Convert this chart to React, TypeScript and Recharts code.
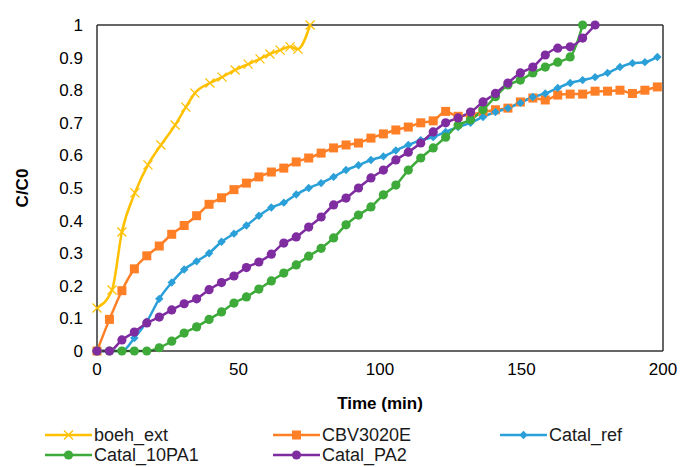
import React from 'react';
import { LineChart, Line, XAxis, YAxis, ReferenceLine } from 'recharts';

// sampling times (min) shared by the catalyst runs
const times = [
  0, 4.4, 8.8, 13.2, 17.6, 22, 26.4, 30.8, 35.2, 39.6, 44, 48.4, 52.8, 57.2, 61.6, 66, 70.4, 74.8, 79.2, 83.6,
  88, 92.4, 96.8, 101.2, 105.6, 110, 114.4, 118.8, 123.2, 127.6, 132, 136.4, 140.8, 145.2, 149.6, 154, 158.4,
  162.8, 167.2, 171.6, 176, 180.4, 184.8, 189.2, 193.6, 198,
];

const boehTimes = [0, 5.3, 8.8, 13.4, 18, 22.6, 27.6, 31.4, 34.6, 39.9, 44.2, 48.8, 53.4, 57.6, 61.1, 64.7, 68.2, 71, 75.3];
const boehValues = [0.132, 0.187, 0.365, 0.485, 0.571, 0.632, 0.693, 0.748, 0.791, 0.822, 0.84, 0.862, 0.88, 0.896, 0.911, 0.923, 0.933, 0.926, 1.0];

const cbvValues = [
  0, 0.097, 0.185, 0.252, 0.292, 0.322, 0.358, 0.385, 0.415, 0.45, 0.47, 0.495, 0.515, 0.534, 0.549, 0.561, 0.58,
  0.592, 0.607, 0.623, 0.632, 0.638, 0.653, 0.666, 0.678, 0.687, 0.7, 0.706, 0.735, 0.72, 0.725, 0.733, 0.74,
  0.745, 0.764, 0.776, 0.77, 0.785, 0.788, 0.788, 0.797, 0.797, 0.8, 0.79, 0.8, 0.81,
];

const refValues = [
  0, 0, 0, 0.04, 0.09, 0.16, 0.21, 0.25, 0.275, 0.3, 0.335, 0.36, 0.385, 0.415, 0.44, 0.455, 0.48, 0.5, 0.515,
  0.534, 0.555, 0.57, 0.586, 0.597, 0.615, 0.632, 0.647, 0.656, 0.672, 0.687, 0.7, 0.718, 0.733, 0.745, 0.761,
  0.779, 0.79, 0.807, 0.822, 0.831, 0.84, 0.853, 0.871, 0.883, 0.886, 0.902,
];

const pa1Values = [
  0, 0, 0, 0, 0, 0.01, 0.03, 0.055, 0.074, 0.097, 0.12, 0.147, 0.166, 0.19, 0.215, 0.239, 0.264, 0.291, 0.315,
  0.347, 0.387, 0.417, 0.442, 0.479, 0.509, 0.555, 0.592, 0.623, 0.656, 0.693, 0.709, 0.74, 0.78, 0.816, 0.831,
  0.853, 0.871, 0.886, 0.902, 1.0,
];

const pa2Values = [
  0, 0, 0.034, 0.058, 0.086, 0.104, 0.126, 0.145, 0.16, 0.188, 0.21, 0.23, 0.256, 0.273, 0.297, 0.331, 0.35,
  0.38, 0.411, 0.448, 0.469, 0.5, 0.531, 0.555, 0.586, 0.61, 0.638, 0.672, 0.7, 0.715, 0.733, 0.764, 0.79, 0.822,
  0.853, 0.871, 0.908, 0.929, 0.933, 0.96, 1.0,
];

const xTicks = [0, 50, 100, 150, 200];
const yTicks = [0, 0.1, 0.2, 0.3, 0.4, 0.5, 0.6, 0.7, 0.8, 0.9, 1];

const toPoints = (ts: number[], vs: number[]) => vs.map((v, i) => ({ t: ts[i], v }));

const FONT = '"Liberation Sans", Arial, sans-serif';

type Marker = 'x' | 'square' | 'diamond' | 'circle';

const series: { name: string; color: string; marker: Marker; data: { t: number; v: number }[] }[] = [
  { name: 'boeh_ext', color: '#FFC000', marker: 'x', data: toPoints(boehTimes, boehValues) },
  { name: 'CBV3020E', color: '#FF7F27', marker: 'square', data: toPoints(times, cbvValues) },
  { name: 'Catal_ref', color: '#2A9FD8', marker: 'diamond', data: toPoints(times, refValues) },
  { name: 'Catal_10PA1', color: '#3DAA3A', marker: 'circle', data: toPoints(times, pa1Values) },
  { name: 'Catal_PA2', color: '#7E2CA0', marker: 'circle', data: toPoints(times, pa2Values) },
];

function MarkerShape({ cx, cy, marker, color }: { cx: number; cy: number; marker: Marker; color: string }) {
  if (cx == null || cy == null) return null;
  if (marker === 'x') {
    const s = 4.5;
    return (
      <path d={`M${cx - s},${cy - s}L${cx + s},${cy + s}M${cx - s},${cy + s}L${cx + s},${cy - s}`} stroke={color} strokeWidth={1.3} fill="none" />
    );
  }
  if (marker === 'square') {
    return <rect x={cx - 4.5} y={cy - 4.5} width={9} height={9} fill={color} />;
  }
  if (marker === 'diamond') {
    const s = 4.2;
    return <path d={`M${cx},${cy - s}L${cx + s},${cy}L${cx},${cy + s}L${cx - s},${cy}Z`} fill={color} />;
  }
  return <circle cx={cx} cy={cy} r={4.6} fill={color} />;
}

function ChartLegend() {
  const lefts = [45, 273, 500];
  return (
    <div style={{ position: 'absolute', left: 0, top: 427, width: 681, height: 36, fontFamily: FONT, fontSize: 18, lineHeight: '16px', color: '#1a1a1a' }}>
      {series.map((s, i) => {
        const col = i % 3;
        const row = Math.floor(i / 3);
        return (
          <div
            key={s.name}
            style={{ position: 'absolute', left: lefts[col], top: row * 20, display: 'flex', alignItems: 'center', height: 16, whiteSpace: 'nowrap' }}
          >
            <svg width={47} height={14} style={{ marginRight: 2 }}>
              <line x1={0} y1={7} x2={47} y2={7} stroke={s.color} strokeWidth={2.5} />
              <MarkerShape cx={23.5} cy={7} marker={s.marker} color={s.color} />
            </svg>
            <span>{s.name}</span>
          </div>
        );
      })}
    </div>
  );
}

export default function App() {
  return (
    <div style={{ position: 'absolute', left: 0, top: 0, width: 681, height: 467, background: '#fff' }}>
      <LineChart width={681} height={467} margin={{ top: 25, right: 18, left: 0, bottom: 86 }}>
        <XAxis
          type="number"
          dataKey="t"
          domain={[0, 200]}
          ticks={xTicks}
          allowDuplicatedCategory={false}
          height={30}
          tickSize={0}
          tickMargin={12}
          axisLine={{ stroke: '#333', strokeWidth: 1.5 }}
          tick={{ fontSize: 17, fill: '#000', fontFamily: FONT }}
          label={{ value: 'Time (min)', position: 'insideBottom', offset: -28, style: { fontSize: 17, fontWeight: 700, fill: '#000', fontFamily: FONT } }}
        />
        <YAxis
          type="number"
          domain={[0, 1]}
          ticks={yTicks}
          width={97}
          tickSize={0}
          tickMargin={14}
          axisLine={{ stroke: '#333', strokeWidth: 1.5 }}
          tick={{ fontSize: 17, fill: '#000', fontFamily: FONT }}
          label={{ value: 'C/C0', angle: -90, position: 'insideLeft', offset: 22, style: { fontSize: 17, fontWeight: 700, fill: '#000', fontFamily: FONT, textAnchor: 'middle' } }}
        />
        <ReferenceLine y={1} stroke="#333" strokeWidth={1.5} />
        <ReferenceLine x={200} stroke="#333" strokeWidth={1.5} />
        {series.map((s) => (
          <Line
            key={s.name}
            data={s.data}
            dataKey="v"
            name={s.name}
            type="monotone"
            stroke={s.color}
            strokeWidth={2.5}
            isAnimationActive={false}
            dot={(p: any) => <MarkerShape key={`${s.name}-${p.index}`} cx={p.cx} cy={p.cy} marker={s.marker} color={s.color} />}
          />
        ))}
      </LineChart>
      <ChartLegend />
    </div>
  );
}
